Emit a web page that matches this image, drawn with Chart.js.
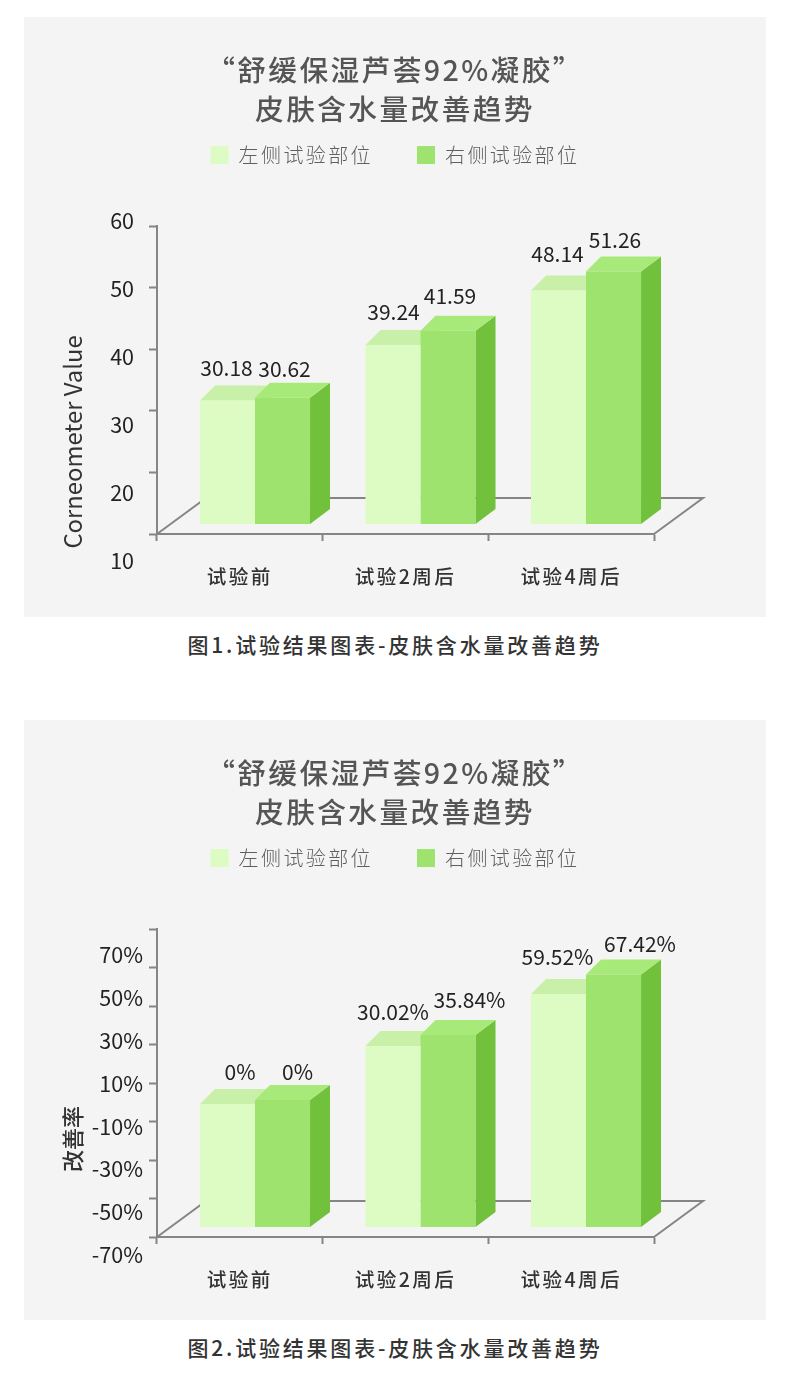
<!DOCTYPE html>
<html>
<head>
<meta charset="utf-8">
<script src="https://cdn.jsdelivr.net/npm/chart.js@4"></script>
<style>
  html, body { margin: 0; background: #fff; }
  body { position: relative; width: 790px; height: 1394px; overflow: hidden; font-family: "Noto Sans CJK SC", sans-serif; }
  canvas { position: absolute; left: 24px; background: #f4f4f4; }
  #chart1 { top: 17px; }
  #chart2 { top: 720px; }
  .caption { position: absolute; left: 0; width: 790px; text-align: center; font-size: 21px; font-weight: 500; letter-spacing: 2.8px; color: #333; line-height: 30px; }
</style>
</head>
<body>
<canvas id="chart1" width="742" height="600" style="width:742px;height:600px"></canvas>
<div class="caption" style="top:629px">图1.试验结果图表-皮肤含水量改善趋势</div>
<canvas id="chart2" width="742" height="600" style="width:742px;height:600px"></canvas>
<div class="caption" style="top:1332px">图2.试验结果图表-皮肤含水量改善趋势</div>
<script>
const categories = ["试验前", "试验2周后", "试验4周后"];
const seriesNames = ["左侧试验部位", "右侧试验部位"];
const titleLines = ["“舒缓保湿芦荟92%凝胶”", "皮肤含水量改善趋势"];

// figure 1
const leftValues = [30.18, 39.24, 48.14];
const rightValues = [30.62, 41.59, 51.26];

// figure 2: the printed percentages don't match the bar heights in the picture,
// so the heights are read against the axis and the printed text is kept apart
const leftRateHeights = [-6.1, 24.0, 51.0];
const rightRateHeights = [-4.0, 29.7, 61.2];
const leftRateLabels = ["0%", "30.02%", "59.52%"];
const rightRateLabels = ["0%", "35.84%", "67.42%"];

const FONT = '"Noto Sans CJK SC", sans-serif';
const LEFT_COLORS = { front: "#ddfcc4", top: "#c9f0a8", side: "#c9f0a8" };
const RIGHT_COLORS = { front: "#9de36d", top: "#a7ea79", side: "#72c13c" };
const AXIS_COLOR = "#858585";

function poly(ctx, pts, color) {
  ctx.fillStyle = color;
  ctx.beginPath();
  pts.forEach((p, i) => i ? ctx.lineTo(p[0], p[1]) : ctx.moveTo(p[0], p[1]));
  ctx.closePath();
  ctx.fill();
}

// Chart.js has no 3d bars and only one plot area, so the scales get placed by hand
const boxPlugin = {
  id: "box3d",
  beforeLayout(chart) { chart.ctx.letterSpacing = "2.4px"; },
  afterLayout(chart, args, o) {
    Object.keys(o.place).forEach(id => {
      const s = chart.scales[id], b = o.place[id];
      s.left = b[0]; s.top = b[1]; s.right = b[2]; s.bottom = b[3];
      s.width = b[2] - b[0]; s.height = b[3] - b[1];
      s.configure();
    });
  },
  beforeDraw(chart) { chart.ctx.letterSpacing = "2.4px"; },
  beforeDatasetsDraw(chart, args, o) {
    const ctx = chart.ctx;
    ctx.letterSpacing = "0px";

    // floor
    const xa = chart.scales.xAxis, y0 = chart.scales.yAxis.bottom;
    ctx.save();
    ctx.strokeStyle = AXIS_COLOR;
    ctx.lineWidth = 2;
    ctx.beginPath();
    ctx.moveTo(xa.left, y0);
    ctx.lineTo(xa.left + 49, y0 - 36);
    ctx.lineTo(xa.right + 49, y0 - 36);
    ctx.lineTo(xa.right, y0);
    ctx.stroke();
    ctx.restore();

    // side and top faces of the bars
    [LEFT_COLORS, RIGHT_COLORS].forEach((c, i) => {
      chart.getDatasetMeta(i).data.forEach(bar => {
        const l = bar.x - bar.width / 2, r = bar.x + bar.width / 2;
        poly(ctx, [[r, bar.y], [r + 20, bar.y - 15], [r + 20, bar.base - 15], [r, bar.base]], c.side);
        poly(ctx, [[l, bar.y], [l + 15, bar.y - 15], [r + 20, bar.y - 15], [r, bar.y]], c.top);
      });
    });
  },
  afterDatasetsDraw(chart, args, o) {
    const ctx = chart.ctx;
    ctx.save();
    ctx.font = "21px " + FONT;
    ctx.fillStyle = "#222";
    ctx.textAlign = "center";
    ctx.textBaseline = "middle";
    o.valueText.forEach((texts, i) => {
      chart.getDatasetMeta(i).data.forEach((bar, j) => {
        ctx.fillText(texts[j], bar.x + o.labelDx[i][j], bar.y + o.labelDy[i][j]);
      });
    });
    // axis title sits low on the axis in the picture
    ctx.translate(o.axisTitle.x, o.axisTitle.y);
    ctx.rotate(-Math.PI / 2);
    ctx.font = o.axisTitle.font + " " + FONT;
    ctx.fillStyle = "#333";
    ctx.fillText(o.axisTitle.text, 0, 0);
    ctx.restore();
  }
};

function makeChart(id, left, right, c) {
  return new Chart(document.getElementById(id), {
    type: "bar",
    data: {
      labels: categories,
      datasets: [
        { label: seriesNames[0], data: left, base: c.min, backgroundColor: LEFT_COLORS.front, clip: false },
        { label: seriesNames[1], data: right, base: c.min, backgroundColor: RIGHT_COLORS.front, clip: false }
      ]
    },
    options: {
      responsive: false,
      animation: false,
      categoryPercentage: 0.665,
      barPercentage: 1,
      layout: { padding: { top: 34 } },
      plugins: {
        tooltip: { enabled: false },
        title: {
          display: true,
          text: titleLines,
          color: "#555",
          font: { family: FONT, size: 28.7, lineHeight: 1.36, weight: "500" },
          padding: { top: 0, bottom: -28 }
        },
        legend: {
          position: "top",
          labels: {
            boxWidth: 18, boxHeight: 18, padding: 44, color: "#5f5f5f",
            font: { family: FONT, size: 20, weight: "300" }
          }
        },
        box3d: {
          place: c.place,
          valueText: c.valueText,
          labelDx: c.labelDx,
          labelDy: c.labelDy,
          axisTitle: c.axisTitle
        }
      },
      scales: {
        // bars live on this pair, which is the front plane of the box
        x: { display: false, offset: true },
        y: { display: false, min: c.min, max: c.barMax },
        // visible ticks of the floor
        xAxis: {
          type: "category", position: "bottom", offset: true,
          grid: { offset: true, drawOnChartArea: false, tickLength: 7, tickWidth: 2, tickColor: AXIS_COLOR },
          border: { color: AXIS_COLOR, width: 2 },
          ticks: { color: "#333", maxRotation: 0, autoSkip: false, padding: 24, font: { family: FONT, size: 19.6, weight: "500" } }
        },
        // visible axis line and tick marks
        yAxis: {
          type: "linear", position: "left", min: c.min, max: c.barMax,
          grid: { drawOnChartArea: false, tickLength: 8, tickWidth: 2, tickColor: AXIS_COLOR },
          border: { color: AXIS_COLOR, width: 2 },
          ticks: { display: false, stepSize: c.step }
        },
        // tick text is spaced wider than the tick marks in the picture
        yLabels: {
          type: "linear", position: "left", min: c.min, max: c.labelMax,
          grid: { display: false },
          border: { display: false },
          ticks: {
            stepSize: c.step, padding: 0, autoSkip: false, color: "#222", z: 1,
            font: { family: FONT, size: 21.5 },
            callback: c.tickText
          }
        }
      }
    },
    plugins: [boxPlugin]
  });
}

makeChart("chart1", leftValues, rightValues, {
  min: 10, barMax: 60, labelMax: 60, step: 10,
  tickText: v => String(v),
  valueText: [leftValues.map(v => v.toFixed(2)), rightValues.map(v => v.toFixed(2))],
  labelDx: [[-1, 0.5, -1], [2, 2, 1.5]],
  labelDy: [[-32, -33, -37], [-29, -35, -31]],
  axisTitle: { text: "Corneometer Value", x: 49, y: 425, font: "23.8px" },
  place: {
    x: [148.25, 201, 644.75, 507],
    y: [148.25, 201, 644.75, 507],
    xAxis: [133, 517, 630, 596],
    yAxis: [125, 209, 133, 517],
    yLabels: [40, 204, 118, 544]
  }
});

makeChart("chart2", leftRateHeights, rightRateHeights, {
  min: -70, barMax: 90, labelMax: 70, step: 20,
  tickText: v => v + "%",
  valueText: [leftRateLabels, rightRateLabels],
  labelDx: [[12.5, 0, -1], [15, 21.5, 26.5]],
  labelDy: [[-32, -34, -37], [-28, -35, -30]],
  axisTitle: { text: "改善率", x: 49, y: 419, font: "500 22px" },
  place: {
    x: [148.25, 199, 644.75, 507],
    y: [148.25, 199, 644.75, 507],
    xAxis: [133, 517, 630, 596],
    yAxis: [125, 209, 133, 517],
    yLabels: [40, 235, 127, 535]
  }
});
</script>
</body>
</html>
